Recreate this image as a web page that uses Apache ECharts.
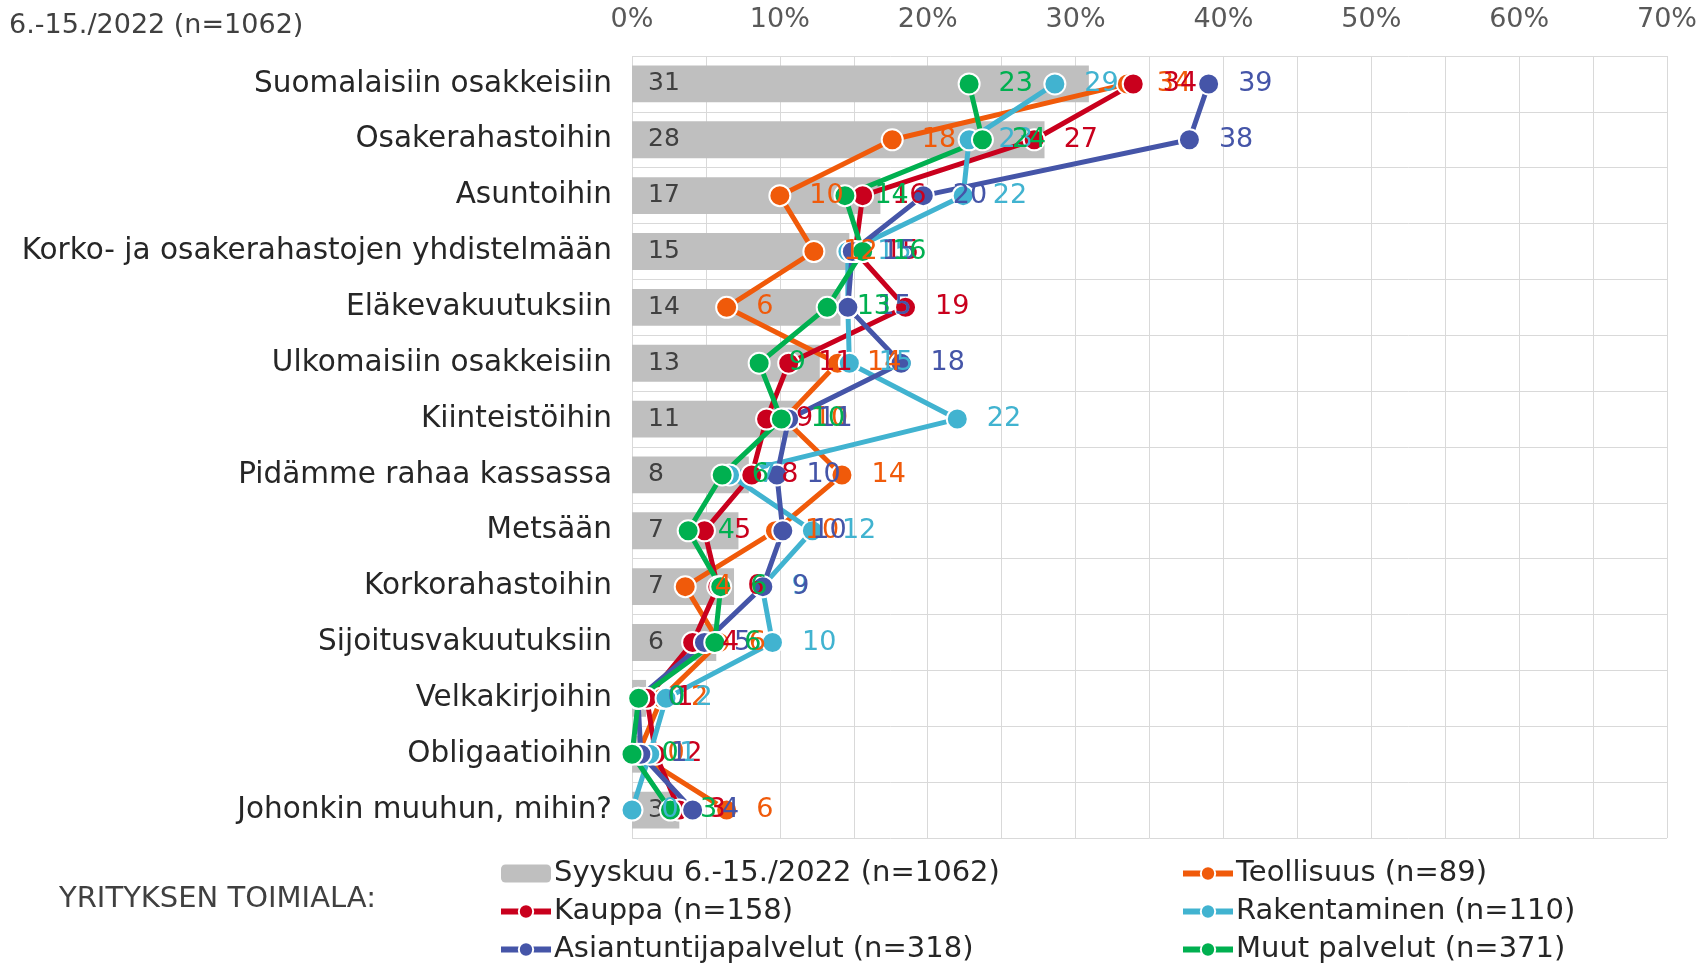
<!DOCTYPE html>
<html>
<head>
<meta charset="utf-8">
<script src="https://cdn.jsdelivr.net/npm/echarts@6/dist/echarts.min.js"></script>
<style>
  html, body { margin: 0; padding: 0; background: #fff; }
  #chart { width: 1704px; height: 964px; }
</style>
</head>
<body>
<div id="chart"></div>
<script>
// categories, top to bottom
const categories = [
  'Suomalaisiin osakkeisiin',
  'Osakerahastoihin',
  'Asuntoihin',
  'Korko- ja osakerahastojen yhdistelmään',
  'Eläkevakuutuksiin',
  'Ulkomaisiin osakkeisiin',
  'Kiinteistöihin',
  'Pidämme rahaa kassassa',
  'Metsään',
  'Korkorahastoihin',
  'Sijoitusvakuutuksiin',
  'Velkakirjoihin',
  'Obligaatioihin',
  'Johonkin muuhun, mihin?'
]

// values in %
const total2022 = [30.9, 27.9, 16.8, 14.7, 14.1, 12.7, 11.2, 7.9, 7.2, 6.9, 5.7, 0.95, 0.85, 3.2]
const teollisuus = [33.5, 17.6, 10.0, 12.3, 6.4, 13.9, 10.3, 14.2, 9.7, 3.6, 5.9, 2.0, 0.4, 6.4]
const kauppa = [33.9, 27.2, 15.6, 15.1, 18.5, 10.6, 9.1, 8.1, 4.9, 5.8, 4.1, 1.0, 1.6, 3.2]
const rakentaminen = [28.6, 22.8, 22.4, 14.6, 14.6, 14.7, 22.0, 6.6, 12.2, 8.8, 9.5, 2.3, 1.2, 0.0]
const asiantuntija = [39.0, 37.7, 19.7, 14.9, 14.6, 18.2, 10.6, 9.8, 10.2, 8.85, 4.9, 0.4, 0.6, 4.1]
const muut = [22.8, 23.7, 14.4, 15.6, 13.2, 8.6, 10.1, 6.1, 3.8, 6.0, 5.6, 0.45, 0.0, 2.6]

const xTicks = [0, 10, 20, 30, 40, 50, 60, 70]

const FONT = 'DejaVu Sans'

const lineSeries = [
  { name: 'Teollisuus (n=89)', data: teollisuus, color: '#F05A0A' },
  { name: 'Kauppa (n=158)', data: kauppa, color: '#C9001D' },
  { name: 'Rakentaminen (n=110)', data: rakentaminen, color: '#41B3D0' },
  { name: 'Asiantuntijapalvelut (n=318)', data: asiantuntija, color: '#4555A8' },
  { name: 'Muut palvelut (n=371)', data: muut, color: '#00B050' }
]

const chart = echarts.init(document.getElementById('chart'))

const series = [
  {
    name: 'Syyskuu 6.-15./2022 (n=1062)',
    type: 'bar',
    data: total2022,
    barCategoryGap: '34%',
    itemStyle: { color: '#BFBFBF' },
    label: {
      show: true,
      position: 'insideLeft',
      distance: 16,
      color: '#404040',
      fontFamily: FONT,
      fontSize: 25,
      formatter: p => Math.round(p.value)
    },
    z: 1
  }
].concat(lineSeries.map(s => ({
  name: s.name,
  type: 'line',
  data: s.data.map((v, i) => [v, categories[i]]),
  symbol: 'circle',
  symbolSize: 21,
  color: s.color,
  lineStyle: { width: 5, color: s.color },
  itemStyle: { color: s.color, borderColor: '#fff', borderWidth: 2 },
  label: {
    show: true,
    position: 'right',
    distance: 18,
    color: s.color,
    fontFamily: FONT,
    fontSize: 27,
    formatter: p => Math.round(p.value[0])
  },
  z: 3
})))

const legendText = { fontFamily: FONT, fontSize: 29, lineHeight: 29, color: '#262626', padding: [0, 0, 0, -2] }

chart.setOption({
  animation: false,
  textStyle: { fontFamily: FONT },
  title: [
    {
      text: '6.-15./2022 (n=1062)',
      left: 4, top: 7,
      textStyle: { fontFamily: FONT, fontSize: 27, fontWeight: 'normal', color: '#404040' }
    },
    {
      text: 'YRITYKSEN TOIMIALA:',
      left: 54, top: 880,
      textStyle: { fontFamily: FONT, fontSize: 29, fontWeight: 'normal', color: '#404040' }
    }
  ],
  grid: { left: 632, right: 37, top: 56, bottom: 126, containLabel: false },
  xAxis: {
    type: 'value',
    position: 'top',
    min: xTicks[0],
    max: xTicks[xTicks.length - 1],
    interval: 10,
    axisLine: { show: false },
    axisTick: { show: false },
    axisLabel: {
      margin: 23,
      color: '#595959',
      fontFamily: FONT,
      fontSize: 27,
      formatter: v => v + '%'
    },
    splitLine: { show: true, lineStyle: { color: '#D9D9D9', width: 1 } },
    minorTick: { show: false, splitNumber: 2 },
    minorSplitLine: { show: true, lineStyle: { color: '#D9D9D9', width: 1 } }
  },
  yAxis: {
    type: 'category',
    data: categories,
    inverse: true,
    axisLine: { show: false },
    axisTick: { show: false },
    axisLabel: {
      margin: 20,
      color: '#262626',
      fontFamily: FONT,
      fontSize: 29.5
    },
    splitLine: { show: true, lineStyle: { color: '#D9D9D9', width: 1 } }
  },
  legend: [
    {
      orient: 'vertical',
      left: 498, top: 859, padding: 0,
      itemWidth: 50, itemHeight: 18, itemGap: 9,
      lineStyle: { width: 6 },
      data: ['Syyskuu 6.-15./2022 (n=1062)', 'Kauppa (n=158)', 'Asiantuntijapalvelut (n=318)'],
      textStyle: legendText
    },
    {
      orient: 'vertical',
      left: 1180, top: 859, padding: 0,
      itemWidth: 50, itemHeight: 18, itemGap: 9,
      lineStyle: { width: 6 },
      data: ['Teollisuus (n=89)', 'Rakentaminen (n=110)', 'Muut palvelut (n=371)'],
      textStyle: legendText
    }
  ],
  series: series
})
</script>
</body>
</html>
